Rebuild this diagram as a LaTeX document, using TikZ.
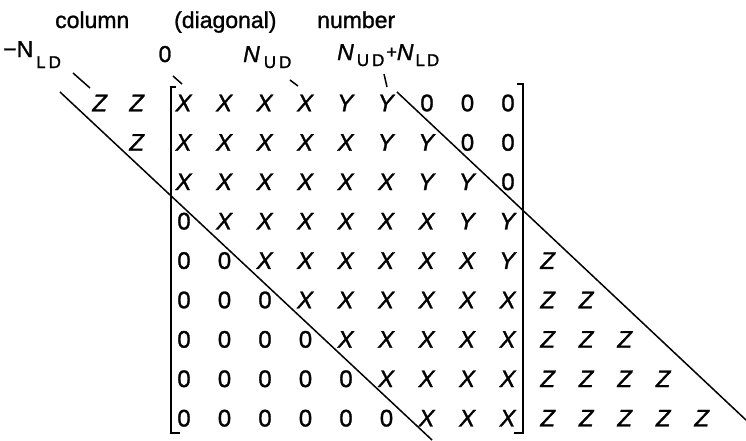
\documentclass[tikz,border=0pt]{standalone}
\usepackage{fontspec}
\setmainfont{Liberation Sans}[FakeBold=1.2]
\newcommand\mysub[2]{\raisebox{#1}{\fontsize{17}{17}\selectfont #2}}
\begin{document}
\begin{tikzpicture}[x=1pt,y=-1pt,
  ent/.style={font=\fontsize{24}{24}\selectfont, inner sep=0pt},
  lab/.style={font=\fontsize{23}{23}\selectfont, inner sep=0pt},
  head/.style={font=\fontsize{23}{23}\selectfont, inner sep=0pt},
  rule/.style={line width=1.5pt},
  brk/.style={line width=1.6pt}]
\useasboundingbox (0,0) rectangle (746,440);
% header
\node[head, anchor=base west] (hcol) at (55,28) {column};
\node[head, anchor=base west] (hdiag) at (174,28) {(diagonal)};
\node[head, anchor=base west] (hnum) at (317,28) {number};
% column labels
\node[lab, anchor=base west] (lnld) at (3,57) {−N\kern3pt\mysub{-11pt}{L\kern3pt D}};
\node[lab, anchor=base] (lzero) at (165,62) {0};
\node[lab, anchor=base west] (lnud) at (243,62) {\textit{N}\kern4pt\mysub{-6pt}{U\kern3pt D}};
\node[lab, anchor=base west] (lsum) at (337,60) {\textit{N}\kern3pt\mysub{-6pt}{U\kern3pt D}\kern2pt\raisebox{2pt}{\fontsize{18}{18}\selectfont +}\textit{N}\kern2pt\mysub{-6pt}{L\kern2pt D}};
% matrix entries
\foreach \r [count=\i] in {%
  {X,X,X,X,Y,Y,0,0,0},%
  {X,X,X,X,X,Y,Y,0,0},%
  {X,X,X,X,X,X,Y,Y,0},%
  {0,X,X,X,X,X,X,Y,Y},%
  {0,0,X,X,X,X,X,X,Y},%
  {0,0,0,X,X,X,X,X,X},%
  {0,0,0,0,X,X,X,X,X},%
  {0,0,0,0,0,X,X,X,X},%
  {0,0,0,0,0,0,X,X,X}}{%
  \foreach \c [count=\j] in \r {%
    \node[ent] (m-\i-\j) at ({184+40.5*(\j-1)},{103+39.4*(\i-1)}) {\if\c0 0\else\textit{\c}\fi};
  }
}
% left Z
\node[ent] (zl-1-1) at (100,103) {\textit{Z}};
\node[ent] (zl-1-2) at (137,103) {\textit{Z}};
\node[ent] (zl-2-2) at (137,142.4) {\textit{Z}};
% right Z
\foreach \i in {5,...,9}{%
  \pgfmathtruncatemacro\n{\i-4}
  \foreach \k in {1,...,\n}{%
    \node[ent] (zr-\i-\k) at ({548+38.5*(\k-1)},{103+39.4*(\i-1)}) {\textit{Z}};
  }
}
% brackets
\draw[brk] (176,87) -- (171,87) -- (171,433) -- (180,433);
\draw[brk] (517,84) -- (523,84) -- (523,433) -- (514,433);
% ticks
\coordinate (t1a) at (73,73); \coordinate (t1b) at (90,88);
\coordinate (t2a) at (173,76); \coordinate (t2b) at (182,84);
\coordinate (t3a) at (290,80); \coordinate (t3b) at (298,86);
\coordinate (t4a) at (384,74); \coordinate (t4b) at (387,87);
\draw[rule] (t1a) -- (t1b);
\draw[rule] (t2a) -- (t2b);
\draw[rule] (t3a) -- (t3b);
\draw[rule] (t4a) -- (t4b);
% long diagonals
\coordinate (d1a) at (60,92); \coordinate (d1b) at (432,440);
\coordinate (d2a) at (397,92); \coordinate (d2b) at (746,420);
\draw[rule] (d1a) -- (d1b);
\draw[rule] (d2a) -- (d2b);
\end{tikzpicture}
\end{document}
